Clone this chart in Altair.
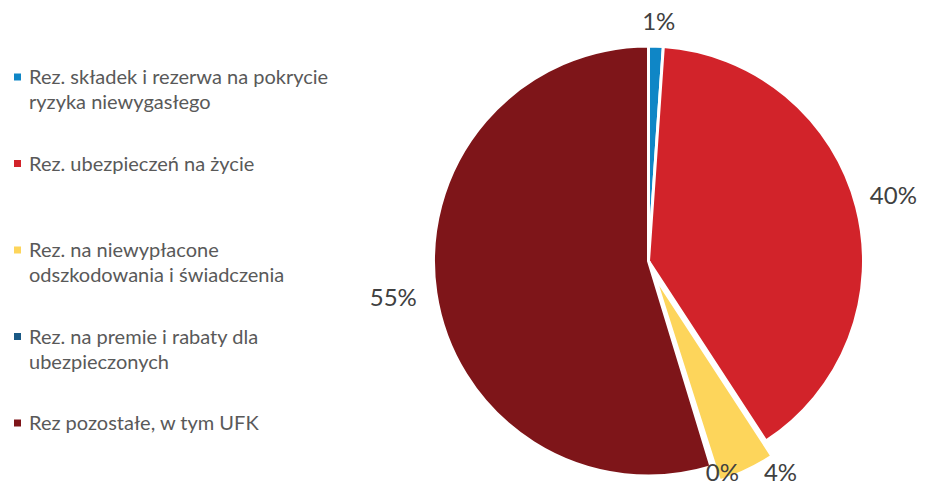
import altair as alt
import pandas as pd

categories = [
    "Rez. składek i rezerwa na pokrycie\nryzyka niewygasłego",
    "Rez. ubezpieczeń na życie",
    "Rez. na niewypłacone\nodszkodowania i świadczenia",
    "Rez. na premie i rabaty dla\nubezpieczonych",
    "Rez pozostałe, w tym UFK",
]
shares = [1.1, 39.7, 4.3, 0.2, 54.7]
pct_labels = ["1%", "40%", "4%", "0%", "55%"]
colors = ["#0F86C6", "#D2232A", "#FDD55B", "#1A5985", "#7E1519"]

df = pd.DataFrame({
    "cat": categories,
    "share": shares,
    "lab": pct_labels,
    "idx": list(range(len(categories))),
})

color_scale = alt.Scale(domain=categories, range=colors)

base = alt.Chart(df).encode(
    theta=alt.Theta("share:Q", stack=True),
    order=alt.Order("idx:Q"),
)

CX, CY, R = 640.5, 253, 215

pie_main = base.mark_arc(outerRadius=R, stroke="white", strokeWidth=3).encode(
    color=alt.Color("cat:N", scale=color_scale, legend=None),
    opacity=alt.condition("datum.idx == 2", alt.value(0), alt.value(1)),
    x=alt.value(CX), y=alt.value(CY),
)
pie_explode = base.mark_arc(outerRadius=R, stroke="white", strokeWidth=3).encode(
    color=alt.Color("cat:N", scale=color_scale, legend=None),
    opacity=alt.condition("datum.idx == 2", alt.value(1), alt.value(0)),
    x=alt.value(CX + 6), y=alt.value(CY + 15),
)

txt_style = dict(font="Lato", fontSize=24, color="#404040", align="center", baseline="middle")


def pct_layer(i, radius, dx=0, dy=0):
    return base.transform_calculate(t=f"datum.idx == {i} ? datum.lab : ''").mark_text(
        radius=radius, dx=dx, dy=dy, **txt_style
    ).encode(text="t:N", x=alt.value(CX), y=alt.value(CY))


lab_1 = pct_layer(0, 238, dx=2)
lab_40 = pct_layer(1, 253)
lab_4 = pct_layer(2, 245, dx=27, dy=-8)
lab_0 = pct_layer(3, 232, dx=5, dy=-9)
lab_55 = pct_layer(4, 258)

ysc = alt.Scale(domain=categories, range=[76, 422], type="point", padding=0)
leg_base = alt.Chart(df).encode(y=alt.Y("cat:N", scale=ysc, axis=None, sort=categories))
leg_sym = leg_base.mark_square(size=49, yOffset=-7, opacity=1).encode(
    x=alt.value(9.5),
    color=alt.Color("cat:N", scale=color_scale, legend=None),
)
leg_txt = leg_base.mark_text(
    font="Lato", fontSize=20, color="#595959", align="left", baseline="alphabetic",
    lineBreak="\n", lineHeight=25,
).encode(x=alt.value(21), text="cat:N")

chart = alt.layer(
    pie_main, pie_explode, lab_1, lab_40, lab_4, lab_0, lab_55, leg_sym, leg_txt
).properties(
    width=911, height=478, padding=0,
    autosize=alt.AutoSizeParams(type="none"),
    background="white",
).configure_view(stroke=None)

chart.save("out.html", embed_options={"renderer": "svg", "actions": False})
